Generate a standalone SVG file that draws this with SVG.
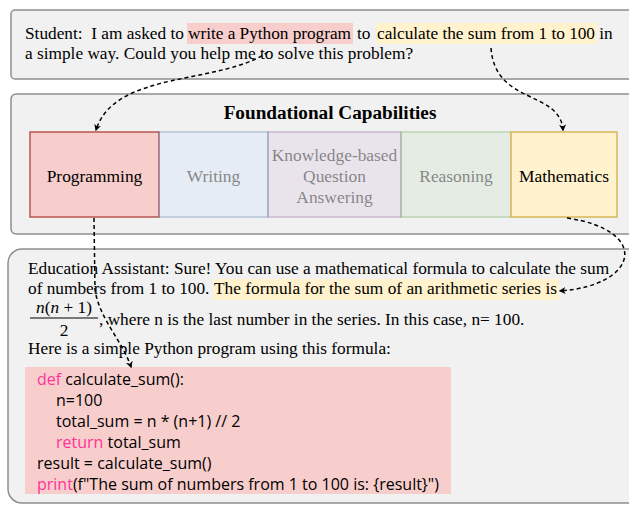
<svg xmlns="http://www.w3.org/2000/svg" width="629" height="506" viewBox="0 0 629 506">
<defs>
<style>
.panel{fill:#f1f1f1;stroke:#8e8e8e;stroke-width:1.5}
.t{font-family:"Liberation Serif","Times New Roman",serif;font-size:17.3px;fill:#000}
.cap{font-family:"Liberation Serif","Times New Roman",serif;font-size:17.4px;text-anchor:middle}
.code{font-family:"Open Sans","Liberation Sans",sans-serif;font-size:16px;fill:#000}
.kw{fill:#ff3399}
.con{fill:none;stroke:#000;stroke-width:1.5;stroke-dasharray:4 3}
</style>
<marker id="ah" viewBox="0 0 10 10" refX="8" refY="5" markerWidth="7" markerHeight="7" orient="auto-start-reverse" markerUnits="userSpaceOnUse">
<path d="M0,0 L10,5 L0,10 L3,5 Z" fill="#000"/>
</marker>
</defs>
<rect width="629" height="506" fill="#ffffff"/>

<g id="student">
<rect class="panel" x="11" y="10" width="640" height="69" rx="4"/>
<rect x="187" y="23" width="166" height="21" fill="#f8cecc"/>
<rect x="376" y="23" width="221" height="21" fill="#fff2cc"/>
<text class="t" y="39" xml:space="preserve"><tspan x="25">Student:  I am asked to </tspan><tspan x="188" textLength="163">write a Python program</tspan><tspan x="357">to</tspan><tspan x="377" textLength="218">calculate the sum from 1 to 100</tspan><tspan> in</tspan></text>
<text class="t" x="25" y="59">a simple way. Could you help me to solve this problem?</text>
</g>

<g id="capabilities">
<rect class="panel" x="11" y="94" width="640" height="140" rx="5"/>
<text x="330" y="119" text-anchor="middle" font-family="'Liberation Serif','Times New Roman',serif" font-size="19.2" font-weight="bold">Foundational Capabilities</text>
</g>

<g id="programming">
<rect x="30" y="132" width="129" height="85" fill="#f8cecc" stroke="#b85450" stroke-width="1.5"/>
<text class="cap" x="94.5" y="182">Programming</text>
</g>
<g id="writing" opacity="0.45">
<rect x="159" y="132" width="109" height="85" fill="#dae8fc" stroke="#6c8ebf" stroke-width="1.5"/>
<text class="cap" x="213.5" y="182">Writing</text>
</g>
<g id="kbqa" opacity="0.45">
<rect x="268" y="132" width="133" height="85" fill="#e1d5e7" stroke="#9673a6" stroke-width="1.5"/>
<text class="cap" x="334.5" y="161">Knowledge-based</text>
<text class="cap" x="334.5" y="182">Question</text>
<text class="cap" x="334.5" y="203">Answering</text>
</g>
<g id="reasoning" opacity="0.45">
<rect x="401" y="132" width="110" height="85" fill="#d5e8d4" stroke="#82b366" stroke-width="1.5"/>
<text class="cap" x="456" y="182">Reasoning</text>
</g>
<g id="mathematics">
<rect x="511" y="132" width="106" height="85" fill="#fff2cc" stroke="#d6b656" stroke-width="1.5"/>
<text class="cap" x="564" y="182">Mathematics</text>
</g>

<g id="assistant">
<rect class="panel" x="8" y="249" width="640" height="254" rx="14"/>
<rect x="213" y="279" width="346" height="21" fill="#fff2cc"/>
<text class="t" x="28" y="274">Education Assistant: Sure! You can use a mathematical formula to calculate the sum</text>
<text class="t" y="294"><tspan x="28">of numbers from 1 to 100. </tspan><tspan x="214" textLength="343">The formula for the sum of an arithmetic series is</tspan></text>
<text class="t" x="64" y="313" font-size="18.5" text-anchor="middle"><tspan font-style="italic">n</tspan>(<tspan font-style="italic">n</tspan> + 1)</text>
<line x1="30" y1="318" x2="98" y2="318" stroke="#000" stroke-width="1.2"/>
<text class="t" x="64" y="336" text-anchor="middle" font-size="18">2</text>
<text class="t" x="99" y="325">, where n is the last number in the series. In this case, n= 100.</text>
<text class="t" x="28" y="354">Here is a simple Python program using this formula:</text>
</g>

<g id="code">
<rect x="25" y="367" width="426" height="127" fill="#f8cecc"/>
<text class="code" x="37" y="385"><tspan class="kw">def</tspan> calculate_sum():</text>
<text class="code" x="56" y="406">n=100</text>
<text class="code" x="56" y="427">total_sum = n * (n+1) // 2</text>
<text class="code" x="56" y="448"><tspan class="kw">return</tspan> total_sum</text>
<text class="code" x="37" y="469">result = calculate_sum()</text>
<text class="code" x="37" y="490"><tspan class="kw">print</tspan>(f"The sum of numbers from 1 to 100 is: {result}")</text>
</g>

<g id="connectors">
<path class="con" d="M268,52 C220,85 115,70 96,130" marker-end="url(#ah)"/>
<path class="con" d="M491,48 C495,105 560,90 563,130" marker-end="url(#ah)"/>
<path class="con" d="M567,218 C650,230 640,285 560,291" marker-end="url(#ah)"/>
<path class="con" d="M94,218 L95,290 C100,320 122,340 131,367" marker-end="url(#ah)"/>
</g>
</svg>
